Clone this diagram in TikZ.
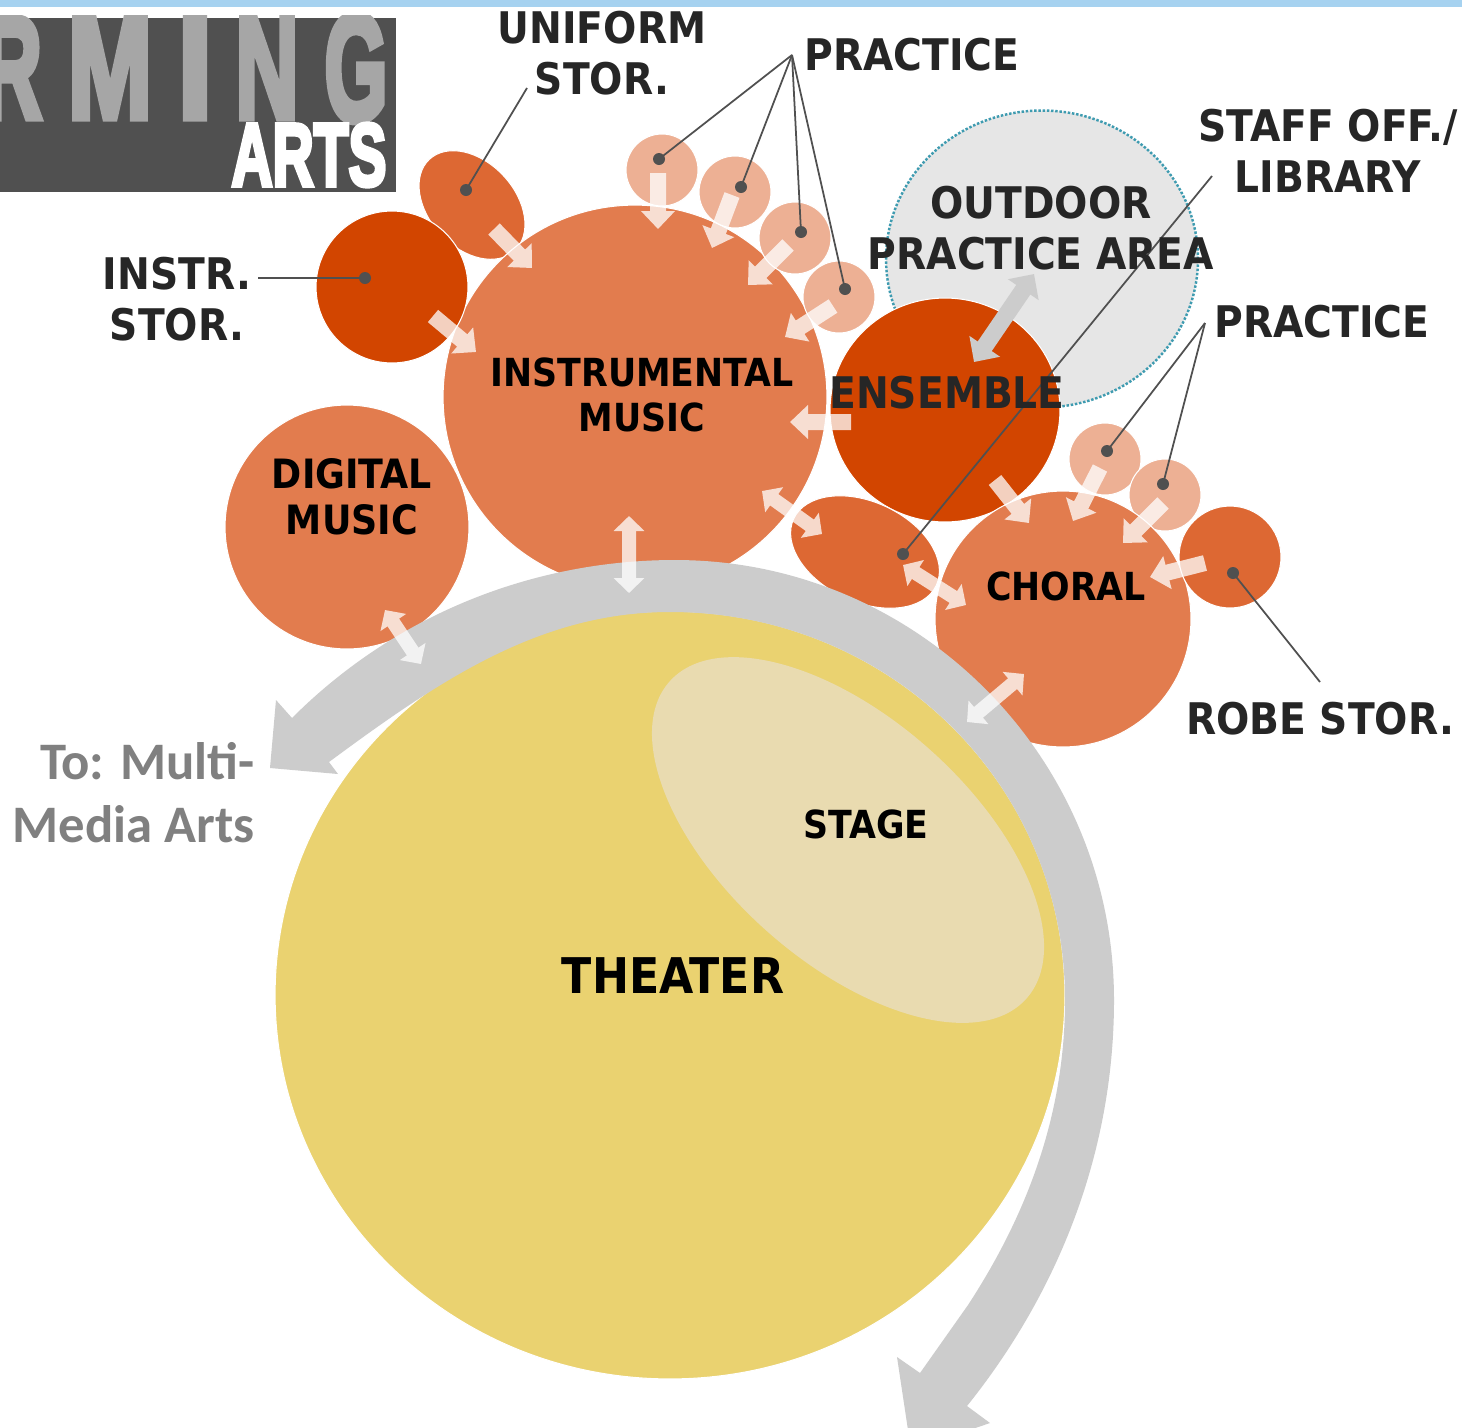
\documentclass[tikz,border=0pt]{standalone}
\usepackage{fontspec}
\usepackage{xcolor}
\usepackage{tikz}
\usetikzlibrary{shapes.geometric, arrows.meta, positioning}
\setmainfont{DejaVu Sans Condensed}[BoldFont={DejaVu Sans Condensed Bold}]
\newfontfamily\logofont[FakeBold=5]{Liberation Sans Bold}
\newfontfamily\notefont{Carlito}[BoldFont={Carlito Bold}]
\definecolor{roomorange}{HTML}{E27C4E}
\definecolor{roomdark}{HTML}{D24500}
\definecolor{roommid}{HTML}{DD6833}
\definecolor{roomlight}{HTML}{EDB094}
\definecolor{theateryellow}{HTML}{EAD270}
\definecolor{stagetan}{HTML}{E9DBB0}
\definecolor{flowgrey}{HTML}{CCCCCC}
\definecolor{outdoorgrey}{HTML}{E6E6E6}
\definecolor{outdoorrim}{HTML}{3E9BB0}
\definecolor{barblue}{HTML}{A6D2F0}
\definecolor{logodark}{HTML}{505050}
\definecolor{logolight}{HTML}{A6A6A6}
\definecolor{inkdark}{HTML}{262626}
\definecolor{notegrey}{HTML}{808080}
\tikzset{
  room/.style={circle, draw=white, line width=0.6pt, inner sep=0pt, minimum size=#1*0.04cm},
  roomoval/.style={ellipse, draw=white, line width=0.6pt, inner sep=0pt},
  practiceroom/.style={room=36, fill=roomlight},
  leaderdot/.style={circle, fill=logodark, inner sep=0pt, minimum size=0.24cm},
  leader/.style={draw=logodark, line width=1pt},
  biglabel/.style={inkdark, align=center, font=\fontsize{24.8}{29}\selectfont\bfseries},
  roomlabel/.style={black, align=center, font=\fontsize{22}{26}\selectfont\bfseries},
  oneway/.style={white, line width=0.32cm, -{Triangle[width=0.66cm, length=0.36cm]}},
  twoway/.style={white, line width=0.28cm, {Triangle[width=0.6cm, length=0.3cm]}-{Triangle[width=0.6cm, length=0.3cm]}},
  greyway/.style={flowgrey, line width=0.34cm, {Triangle[width=0.72cm, length=0.38cm]}-{Triangle[width=0.72cm, length=0.38cm]}},
  logotext/.style={inner sep=0pt, logolight}
}
\begin{document}
\begin{tikzpicture}[x=0.02cm, y=0.02cm]
  \clip (0,0) rectangle (1462,-1427);
  \fill[white] (0,0) rectangle (1462,-1427);

  % Top bar and logo
  \fill[barblue] (0,0) rectangle (1462,-7);
  \fill[logodark] (0,-18) rectangle (396,-192);
  \begin{scope}
    \clip (0,-15) rectangle (396,-192);
    \node[logotext] (logor) at (12,-68) {\resizebox{1.2cm}{2cm}{\logofont R}};
    \node[logotext] (logom) at (110,-68) {\resizebox{1.68cm}{2cm}{\logofont M}};
    \node[logotext] (logoi) at (195,-68) {\resizebox{0.7cm}{2cm}{\logofont I}};
    \node[logotext] (logon) at (267,-68) {\resizebox{1.26cm}{2cm}{\logofont N}};
    \node[logotext] (logog) at (356,-68) {\resizebox{1.26cm}{2.12cm}{\logofont G}};
    \node[logotext, white] (logoarts) at (309,-155) {\resizebox{3.1cm}{1.24cm}{\logofont ARTS}};
  \end{scope}

  % Theater and stage
  \node[roomoval, fill=theateryellow, minimum width=15.8cm, minimum height=15.36cm] (theater) at (670,-995) {};
  \node[roomoval, fill=stagetan, draw=none, minimum width=9.55cm, minimum height=4.88cm, rotate=-41.6] (stage) at (848,-840) {};

  % Outdoor area
  \node[ellipse, draw=outdoorrim, densely dotted, line width=1.4pt, fill=outdoorgrey, inner sep=0pt, minimum width=6.24cm, minimum height=5.94cm] (outdoor) at (1042,-259) {};

  % Rooms
  \node[roomoval, fill=roommid, minimum width=2.5cm, minimum height=1.72cm, rotate=-47] (uniform) at (472,-205) {};
  \node[room=192, fill=roomorange] (instrumental) at (635,-397) {};
  \node[room=76, fill=roomdark] (instrstor) at (392,-287) {};
  \node[room=122, fill=roomorange] (digital) at (347,-527) {};
  \node[practiceroom] (practicea) at (662,-170) {};
  \node[practiceroom] (practiceb) at (735,-192) {};
  \node[practiceroom] (practicec) at (795,-238) {};
  \node[practiceroom] (practiced) at (839,-297) {};
  \node[roomoval, fill=roomdark, minimum width=4.6cm, minimum height=4.48cm] (ensemble) at (945,-410) {};
  \node[practiceroom] (practicee) at (1105,-459) {};
  \node[practiceroom] (practicef) at (1165,-495) {};
  \node[room=128, fill=roomorange] (choral) at (1063,-619) {};
  \node[room=51, fill=roommid] (robe) at (1230,-557) {};
  \node[roomoval, fill=roommid, minimum width=3.15cm, minimum height=2cm, rotate=-25] (staffoff) at (865,-552) {};

  % Circulation band with its two heads
  \fill[flowgrey] (292,-718) .. controls (400,-610) and (540,-560) .. (675,-560)
    .. controls (917,-560) and (1114,-757) .. (1114,-1000)
    .. controls (1114,-1150) and (1060,-1290) .. (967,-1406)
    -- (990,-1423) -- (911,-1450) -- (897,-1357) -- (920,-1373) -- (968,-1305)
    .. controls (1030,-1210) and (1065,-1110) .. (1065,-1000)
    .. controls (1065,-782) and (888,-612) .. (670,-612)
    .. controls (540,-612) and (440,-680) .. (329,-762)
    -- (338,-774) -- (270,-768) -- (276,-700) -- cycle;

  % Ends of the block arrows
  \coordinate (uniformout) at (494,-229);
  \coordinate (uniformin) at (532,-268);
  \coordinate (instrout) at (433,-316);
  \coordinate (instrin) at (476,-352);
  \coordinate (practaout) at (658,-173);
  \coordinate (practain) at (658,-229);
  \coordinate (practbout) at (732,-195);
  \coordinate (practbin) at (712,-248);
  \coordinate (practcout) at (788,-245);
  \coordinate (practcin) at (748,-285);
  \coordinate (practdout) at (833,-306);
  \coordinate (practdin) at (785,-337);
  \coordinate (ensout) at (851,-422);
  \coordinate (ensin) at (790,-422);
  \coordinate (staffa) at (762,-491);
  \coordinate (staffb) at (822,-534);
  \coordinate (staffc) at (903,-565);
  \coordinate (staffd) at (966,-605);
  \coordinate (choralout) at (995,-480);
  \coordinate (choralin) at (1029,-523);
  \coordinate (practeout) at (1100,-468);
  \coordinate (practein) at (1073,-521);
  \coordinate (practfout) at (1163,-503);
  \coordinate (practfin) at (1123,-543);
  \coordinate (robeout) at (1205,-563);
  \coordinate (robein) at (1150,-577);
  \coordinate (choralup) at (1024,-674);
  \coordinate (choraldown) at (967,-722);
  \coordinate (instrup) at (629,-516);
  \coordinate (instrdown) at (629,-593);
  \coordinate (digitalup) at (385,-610);
  \coordinate (digitaldown) at (421,-664);
  \coordinate (outdoorup) at (1034,-274);
  \coordinate (outdoordown) at (974,-362);

  % Block arrows
  \begin{scope}[transparency group, opacity=0.75]
    \draw[oneway] (uniformout) -- (uniformin);
    \draw[oneway] (instrout) -- (instrin);
    \draw[oneway] (practaout) -- (practain);
    \draw[oneway] (practbout) -- (practbin);
    \draw[oneway] (practcout) -- (practcin);
    \draw[oneway] (practdout) -- (practdin);
    \draw[oneway] (ensout) -- (ensin);
    \draw[oneway] (choralout) -- (choralin);
    \draw[oneway] (practeout) -- (practein);
    \draw[oneway] (practfout) -- (practfin);
    \draw[oneway] (robeout) -- (robein);
    \draw[twoway] (staffa) -- (staffb);
    \draw[twoway] (staffc) -- (staffd);
    \draw[twoway] (choralup) -- (choraldown);
    \draw[twoway] (instrup) -- (instrdown);
    \draw[twoway] (digitalup) -- (digitaldown);
  \end{scope}
  \draw[greyway] (outdoorup) -- (outdoordown);

  % Leader lines
  \coordinate (hubtop) at (792,-55);
  \coordinate (hubright) at (1205,-323);
  \coordinate (uniformend) at (527,-88);
  \coordinate (instrend) at (258,-278);
  \coordinate (staffend) at (1212,-176);
  \coordinate (robeend) at (1320,-682);
  \node[leaderdot] (dota) at (659,-159) {};
  \node[leaderdot] (dotb) at (741,-187) {};
  \node[leaderdot] (dotc) at (801,-232) {};
  \node[leaderdot] (dotd) at (845,-289) {};
  \node[leaderdot] (dote) at (1107,-451) {};
  \node[leaderdot] (dotf) at (1163,-484) {};
  \node[leaderdot] (dotuniform) at (466,-190) {};
  \node[leaderdot] (dotinstr) at (365,-278) {};
  \node[leaderdot] (dotstaff) at (903,-554) {};
  \node[leaderdot] (dotrobe) at (1233,-573) {};
  \draw[leader] (hubtop) -- (dota.center);
  \draw[leader] (hubtop) -- (dotb.center);
  \draw[leader] (hubtop) -- (dotc.center);
  \draw[leader] (hubtop) -- (dotd.center);
  \draw[leader] (hubright) -- (dote.center);
  \draw[leader] (hubright) -- (dotf.center);
  \draw[leader] (uniformend) -- (dotuniform.center);
  \draw[leader] (instrend) -- (dotinstr.center);
  \draw[leader] (staffend) -- (dotstaff.center);
  \draw[leader] (robeend) -- (dotrobe.center);

  % Labels
  \node[biglabel] (uniformlabel) at (602,-53) {UNIFORM\\STOR.};
  \node[biglabel] (practicetop) at (912,-55) {PRACTICE};
  \node[biglabel] (stafflabel) at (1328,-151) {STAFF OFF./\\LIBRARY};
  \node[biglabel] (outdoorlabel) at (1041,-228) {OUTDOOR\\PRACTICE AREA};
  \node[biglabel] (practiceright) at (1322,-322) {PRACTICE};
  \node[biglabel] (instrlabel) at (177,-299) {INSTR.\\STOR.};
  \node[biglabel] (ensemblelabel) at (947,-393) {ENSEMBLE};
  \node[biglabel] (robelabel) at (1320,-719) {ROBE STOR.};
  \node[roomlabel] (instrumentallabel) at (642,-395) {INSTRUMENTAL\\MUSIC};
  \node[roomlabel, font=\fontsize{23}{26}\selectfont\bfseries] (digitallabel) at (352,-497) {DIGITAL\\MUSIC};
  \node[roomlabel] (chorallabel) at (1066,-586) {CHORAL};
  \node[roomlabel] (stagelabel) at (866,-824) {STAGE};
  \node[black, font=\fontsize{28}{28}\selectfont\bfseries] (theaterlabel) at (673,-976) {THEATER};
  \node[notegrey, anchor=east, align=right, inner sep=0pt, font=\fontsize{30}{36}\selectfont\notefont\bfseries] (tolabel) at (255,-793) {To: Multi-\\Media Arts};
\end{tikzpicture}
\end{document}
